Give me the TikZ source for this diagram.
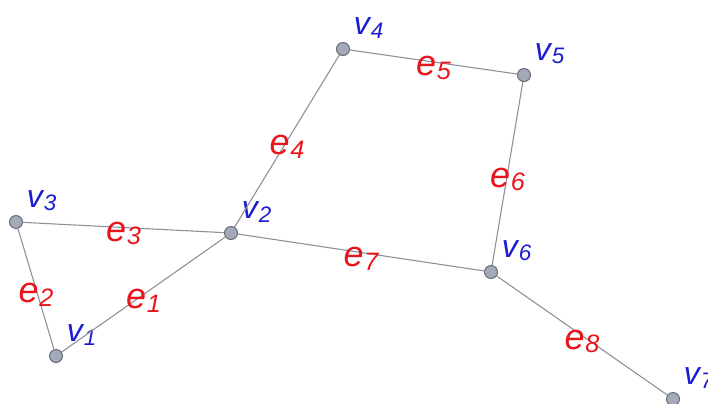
\documentclass[tikz,border=0pt]{standalone}
\usepackage{fontspec}
\setmainfont{Liberation Sans}
\usepackage{graphicx}
\usetikzlibrary{positioning}
\definecolor{colV}{RGB}{28,28,210}
\definecolor{colE}{RGB}{232,22,28}
\definecolor{colLine}{RGB}{140,146,156}
\definecolor{colDot}{RGB}{162,170,186}
\newcommand{\lbl}[2]{\textit{#1\kern0.4pt\raisebox{-0.2ex}{\scalebox{0.7}{#2}}}}

\begin{document}
\begin{tikzpicture}[x=0.5pt,y=-0.5pt,
  vtx/.style={circle,draw=colLine!75!black,fill=colDot,line width=0.5pt,minimum size=6.5pt,inner sep=0pt},
  vlab/.style={font=\fontsize{16}{16}\selectfont,colV,inner sep=0pt},
  elab/.style={font=\fontsize{18}{18}\selectfont,colE,inner sep=0pt,midway,yshift=-3pt},
  edge/.style={draw=colLine,line width=0.55pt}
]
\useasboundingbox (0,0) rectangle (708,403);
% vertices
\node[vtx] (v1) at (56,356) {};
\node[vtx] (v2) at (231,233) {};
\node[vtx] (v3) at (16,222) {};
\node[vtx] (v4) at (343,49) {};
\node[vtx] (v5) at (524,75) {};
\node[vtx] (v6) at (491,272) {};
\node[vtx] (v7) at (673,399) {};

% vertex names
\node[vlab,above right=2.8pt and 2.8pt of v1] (n1) {\lbl{v}{1}};
\node[vlab,above right=2.8pt and 2.8pt of v2] (n2) {\lbl{v}{2}};
\node[vlab,above right=2.8pt and 2.8pt of v3] (n3) {\lbl{v}{3}};
\node[vlab,above right=2.8pt and 2.8pt of v4] (n4) {\lbl{v}{4}};
\node[vlab,above right=2.8pt and 2.8pt of v5] (n5) {\lbl{v}{5}};
\node[vlab,above right=2.8pt and 2.8pt of v6] (n6) {\lbl{v}{6}};
\node[vlab,above right=2.8pt and 2.8pt of v7] (n7) {\lbl{v}{7}};

% edges
\draw[edge] (v1) -- node[elab] (e1) {\lbl{e}{1}} (v2);
\draw[edge] (v3) -- node[elab] (e2) {\lbl{e}{2}} (v1);
\draw[edge] (v3) -- node[elab] (e3) {\lbl{e}{3}} (v2);
\draw[edge] (v2) -- node[elab] (e4) {\lbl{e}{4}} (v4);
\draw[edge] (v4) -- node[elab] (e5) {\lbl{e}{5}} (v5);
\draw[edge] (v5) -- node[elab] (e6) {\lbl{e}{6}} (v6);
\draw[edge] (v2) -- node[elab] (e7) {\lbl{e}{7}} (v6);
\draw[edge] (v6) -- node[elab] (e8) {\lbl{e}{8}} (v7);
\end{tikzpicture}
\end{document}
